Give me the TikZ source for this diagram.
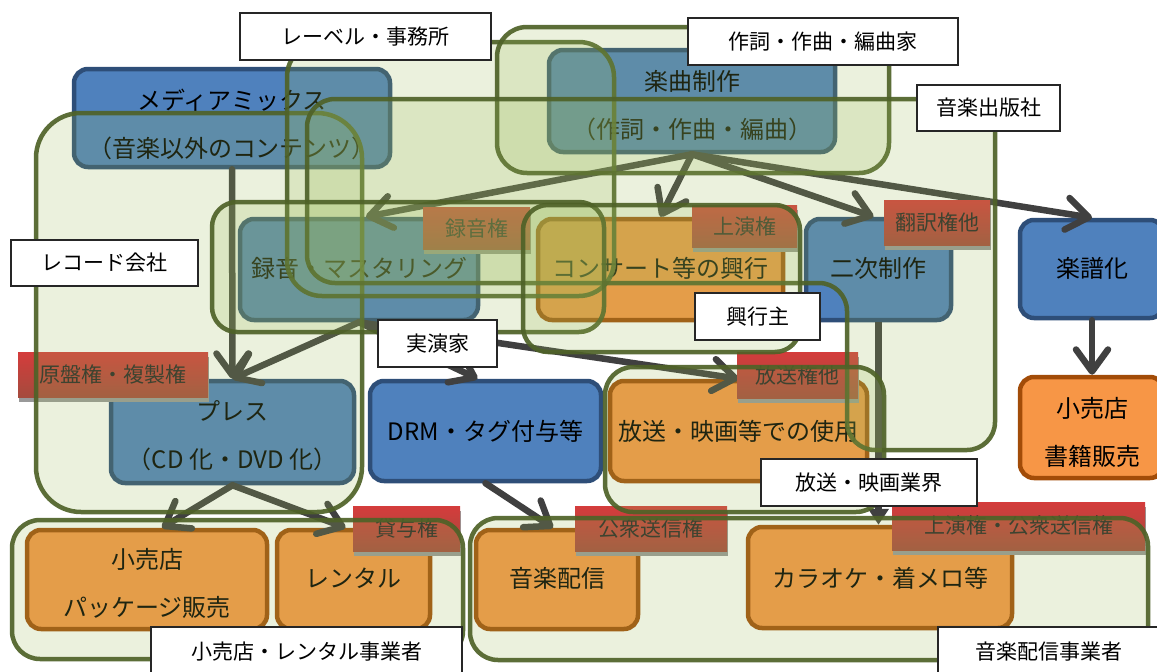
\documentclass[tikz,border=0pt]{standalone}
\usepackage{fontspec}
\setmainfont{Noto Sans CJK JP}
\usetikzlibrary{arrows.meta,shadows}
\definecolor{blueF}{HTML}{4F81BD}
\definecolor{blueD}{HTML}{2E4E78}
\definecolor{orgF}{HTML}{F79646}
\definecolor{orgD}{HTML}{A24C08}
\definecolor{grpF}{HTML}{9BBB59}
\definecolor{grpD}{HTML}{4F6228}
\definecolor{arrC}{HTML}{404040}
\definecolor{bdgT}{HTML}{D43C3C}
\definecolor{bdgB}{HTML}{A54B3D}
\tikzset{
  box/.style={rectangle, rounded corners=14, line width=4.5, inner sep=0},
  bbox/.style={box, fill=blueF, draw=blueD},
  obox/.style={box, fill=orgF, draw=orgD},
  btext/.style={font=\fontsize{24}{48}\selectfont, align=center, inner sep=0, text=black},
  badge/.style={rectangle, top color=bdgT, bottom color=bdgB, draw=none, inner sep=0,
    font=\fontsize{21}{21}\selectfont, text=black!85,
    drop shadow={shadow xshift=1pt, shadow yshift=-5pt, fill=black!40, opacity=1}},
  grp/.style={fill=grpF, fill opacity=0.2, draw=grpD, draw opacity=0.92, line width=4.5},
  lab/.style={rectangle, fill=white, draw=black!85, line width=1.3, inner sep=0,
    font=\fontsize{21}{21}\selectfont},
  arr/.style={draw=arrC, line width=6.5, line cap=round,
    -{Straight Barb[length=22, width=32, line cap=round, line join=round]}},
  tarr/.style={draw=arrC, line width=6.5, -{Triangle[length=16, width=20]}}
}
\begin{document}
\begin{tikzpicture}[x=1pt, y=-1pt]
\useasboundingbox (0,0) rectangle (1157,672);
\fill[white] (0,0) rectangle (1157,672);

% ---------- process boxes ----------
\node[bbox, minimum width=316, minimum height=98]  (mm)      at (232,118)    {};
\node[bbox, minimum width=286, minimum height=102] (kyoku)   at (692,101)    {};
\node[bbox, minimum width=238, minimum height=101] (rec)     at (359,269.5)  {};
\node[obox, minimum width=245, minimum height=101] (con)     at (660.5,269.5){};
\node[bbox, minimum width=145, minimum height=101] (niji)    at (878.5,269.5){};
\node[bbox, minimum width=144, minimum height=98]  (gakufu)  at (1092,269)   {};
\node[bbox, minimum width=243, minimum height=102] (press)   at (232.5,432)  {};
\node[bbox, minimum width=231, minimum height=100] (drm)     at (485.5,431)  {};
\node[obox, minimum width=257, minimum height=100] (hoso)    at (738.5,431)  {};
\node[obox, minimum width=144, minimum height=101] (shoseki) at (1092,427.5) {};
\node[obox, minimum width=240, minimum height=99]  (pkg)     at (147,579.5)  {};
\node[obox, minimum width=153, minimum height=99]  (rental)  at (353.5,579.5){};
\node[obox, minimum width=162, minimum height=99]  (haishin) at (557,579.5)  {};
\node[obox, minimum width=264, minimum height=101] (karaoke) at (880,577.5)  {};

% ---------- box texts ----------
\node[btext] (mm-t)      at (232,124)   {メディアミックス\\（音楽以外のコンテンツ）};
\node[btext] (kyoku-t)   at (692,106)   {楽曲制作\\（作詞・作曲・編曲）};
\node[btext] (rec-t)     at (359,268)   {録音・マスタリング};
\node[btext] (con-t)     at (660.5,268) {コンサート等の興行};
\node[btext] (niji-t)    at (878.5,268) {二次制作};
\node[btext] (gakufu-t)  at (1092,268)  {楽譜化};
\node[btext] (press-t)   at (232.5,435.5) {プレス\\（CD 化・DVD 化）};
\node[btext] (drm-t)     at (485.5,431) {DRM・タグ付与等};
\node[btext] (hoso-t)    at (738.5,431) {放送・映画等での使用};
\node[btext] (shoseki-t) at (1092,432.5) {小売店\\書籍販売};
\node[btext] (pkg-t)     at (147,583)   {小売店\\パッケージ販売};
\node[btext] (rental-t)  at (353.5,578) {レンタル};
\node[btext] (haishin-t) at (557,578)   {音楽配信};
\node[btext] (karaoke-t) at (880,578)   {カラオケ・着メロ等};

% ---------- arrows ----------
\draw[arr] (mm.south) -- (press.north);
\draw[arr] (kyoku.south) -- ([xshift=7]rec.north);
\draw[arr] (kyoku.south) -- (con.north);
\draw[arr] (kyoku.south) -- ([xshift=-5]niji.north);
\draw[arr] (kyoku.south) -- (gakufu.north);
\draw[arr] (rec.south) -- (press.north);
\draw[arr] (rec.south) -- ([xshift=-8]drm.north);
\draw[arr] (rec.south) -- (hoso.north);
\draw[arr] (press.south) -- ([xshift=15]pkg.north);
\draw[arr] (press.south) -- ([xshift=-8]rental.north);
\draw[arr] (drm.south) -- ([xshift=-4]haishin.north);
\draw[arr] (gakufu.south) -- (shoseki.north);
\draw[tarr] (niji.south) -- (niji.south |- karaoke.north);

% ---------- rights badges ----------
\node[badge, minimum width=107, minimum height=42] (b-rokuon)  at (476.5,228)  {録音権};
\node[badge, minimum width=105, minimum height=42] (b-joen)    at (744.5,226)  {上演権};
\node[badge, minimum width=106, minimum height=45] (b-honyaku) at (937,222.5)  {翻訳権他};
\node[badge, minimum width=190, minimum height=45] (b-genban)  at (113,374.5)  {原盤権・複製権};
\node[badge, minimum width=121, minimum height=46] (b-hoso)    at (797.5,375)  {放送権他};
\node[badge, minimum width=107, minimum height=45] (b-taiyo)   at (406.5,528.5){貸与権};
\node[badge, minimum width=152, minimum height=45] (b-koshu)   at (651,528.5)  {公衆送信権};
\node[badge, minimum width=253, minimum height=48] (b-joenk)   at (1018.5,526) {上演権・公衆送信権};

% ---------- groups ----------
\draw[grp, rounded corners=45] (36,113) rectangle (362,512);
\draw[grp, rounded corners=35] (287,42) rectangle (614,296);
\draw[grp, rounded corners=30] (497,27) rectangle (889,173);
\draw[grp, rounded corners=28] (307,99) -- (995,99) -- (995,450) -- (847,450) -- (847,283) -- (307,283) -- cycle;
\draw[grp, rounded corners=25] (212,202) rectangle (604,332);
\draw[grp, rounded corners=25] (523,205) rectangle (800,352);
\draw[grp, rounded corners=28] (605,367) rectangle (884,512);
\draw[grp, rounded corners=28] (12,520) rectangle (463,659);
\draw[grp, rounded corners=28] (470,518) rectangle (1148,660);

% ---------- group labels ----------
\node[lab, minimum width=251, minimum height=47] (l-label)   at (365.5,36.5) {レーベル・事務所};
\node[lab, minimum width=270, minimum height=47] (l-sakushi) at (823,41.5)   {作詞・作曲・編曲家};
\node[lab, minimum width=143, minimum height=46] (l-pub)     at (988.5,108)  {音楽出版社};
\node[lab, minimum width=187, minimum height=46] (l-record)  at (104.5,263)  {レコード会社};
\node[lab, minimum width=125, minimum height=47] (l-kogyo)   at (757.5,316.5){興行主};
\node[lab, minimum width=119, minimum height=47] (l-jitsu)   at (437.5,343.5){実演家};
\node[lab, minimum width=216, minimum height=47] (l-hoso)    at (869,482.5)  {放送・映画業界};
\node[lab, minimum width=311, minimum height=50] (l-retail)  at (306.5,652)  {小売店・レンタル事業者};
\node[lab, minimum width=222, minimum height=50] (l-dist)    at (1049,652)   {音楽配信事業者};
\end{tikzpicture}
\end{document}
